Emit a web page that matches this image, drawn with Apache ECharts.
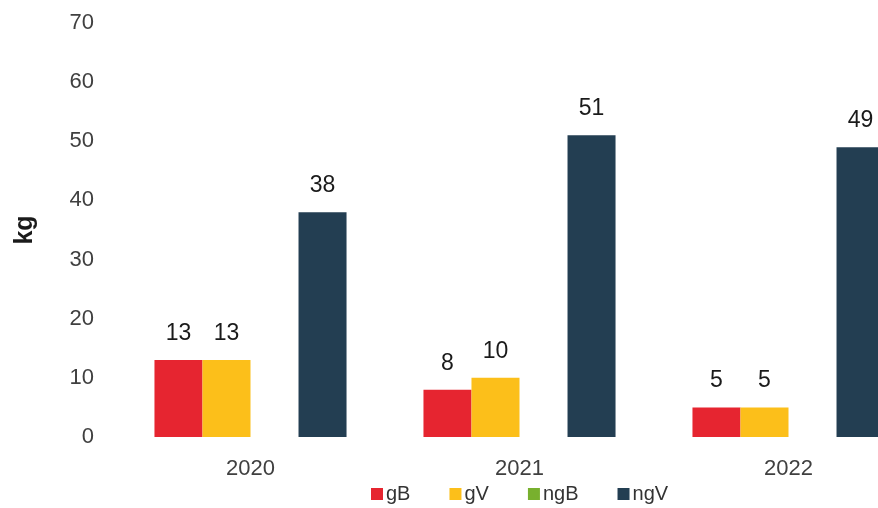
<!DOCTYPE html>
<html>
<head>
<meta charset="utf-8">
<script src="https://cdn.jsdelivr.net/npm/echarts@6/dist/echarts.min.js"></script>
<style>
  html, body { margin: 0; padding: 0; background: #fff; }
  #chart { width: 878px; height: 508px; }
</style>
</head>
<body>
<div id="chart"></div>
<script>
var years = ['2020', '2021', '2022'];
var gB = [13, 8, 5];
var gV = [13, 10, 5];
var ngB = [null, null, null];
var ngV = [38, 51, 49];

var font = 'Liberation Sans, Arial, sans-serif';

function bar(name, data, color) {
  return {
    name: name,
    type: 'bar',
    data: data,
    barGap: '0%',
    barCategoryGap: '28.6%',
    itemStyle: { color: color },
    label: {
      show: true,
      position: 'top',
      distance: 15,
      color: '#1a1a1a',
      fontSize: 23,
      fontFamily: font
    }
  };
}

// the original picture is cut off on the right, so the grid runs past the canvas
echarts.init(document.querySelector('#chart')).setOption({
  animation: false,
  grid: { left: 116, right: -45, top: 23, bottom: 71, containLabel: false, outerBoundsMode: 'none' },
  legend: {
    left: 366,
    top: 479,
    itemWidth: 12,
    itemHeight: 12,
    itemGap: 39,
    icon: 'rect',
    textStyle: { fontSize: 20, color: '#333', fontFamily: font, padding: [0, 0, 0, -2] },
    data: ['gB', 'gV', 'ngB', 'ngV']
  },
  xAxis: {
    type: 'category',
    data: years,
    axisLine: { show: false },
    axisTick: { show: false },
    axisLabel: { fontSize: 22, color: '#404040', fontFamily: font, margin: 21 }
  },
  yAxis: {
    type: 'value',
    min: 0,
    max: 70,
    interval: 10,
    name: 'kg',
    nameLocation: 'middle',
    nameGap: 78,
    nameTextStyle: { fontSize: 25, fontWeight: 'bold', color: '#1a1a1a', fontFamily: font },
    splitLine: { show: false },
    axisLine: { show: false },
    axisTick: { show: false },
    axisLabel: { fontSize: 22, color: '#404040', fontFamily: font, margin: 22 }
  },
  series: [
    bar('gB', gB, '#e62530'),
    bar('gV', gV, '#fcbf1a'),
    bar('ngB', ngB, '#78b02e'),
    bar('ngV', ngV, '#233e52')
  ]
});
</script>
</body>
</html>
